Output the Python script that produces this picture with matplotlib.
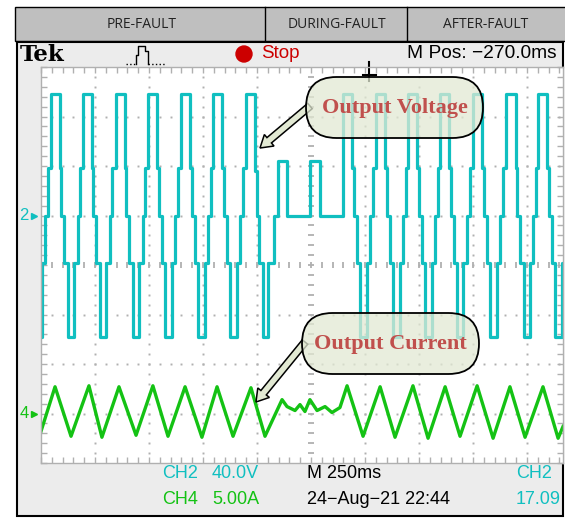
import matplotlib.pyplot as plt
import numpy as np
from matplotlib.patches import Rectangle, FancyBboxPatch, FancyArrow, Circle

# scope settings
ms_per_div = 250          # M 250ms
v_per_div = 40.0          # CH2 40.0V
a_per_div = 5.0           # CH4 5.00A
ch2_offset = 1.0          # ground marker, divisions above centre
ch4_offset = -3.0
trigger_ms = 1520         # M Pos -270 ms -> right of centre

# output voltage (CH2): one switching cycle starting at the positive plateau
cycle_levels = [98, 38, 0, -38, -98, -38, 0, 38]     # V
cycle_widths = [42, 7, 14, 16, 30, 16, 12, 14]        # ms
pre_cycle_starts = [-106, 45, 193, 346, 497, 648, 798]
fault_times = [949, 991, 999, 1007, 1028, 1051, 1079, 1097, 1139, 1245, 1292]
fault_levels = [98, 36, 0, -38, -98, -38, 0, 44, 0, 44, 0]
post_cycle_starts = [1398, 1551, 1699, 1847, 2000, 2155, 2301]

# output current (CH4): peaks / troughs in ms and A
current_t = [0, 65, 139, 222, 282, 361, 440, 518, 588, 667, 745, 815, 889, 972, 1037,
             1116, 1139, 1176, 1199, 1222, 1245, 1278, 1315, 1347, 1384,
             1417, 1491, 1570, 1639, 1722, 1792, 1871, 1940, 2019, 2093, 2171, 2241,
             2324, 2394, 2417]
current_a = [-1.8, 2.7, -2.3, 2.8, -2.4, 2.7, -2.2, 2.8, -2.3, 2.7, -2.4, 2.7, -2.3, 2.6, -2.3,
             1.4, 0.7, 0.3, 0.9, 0.2, 1.4, 0.3, 0.7, 0.1, 0.6,
             2.8, -2.3, 2.7, -2.4, 2.8, -2.5, 2.7, -2.3, 2.8, -2.5, 2.7, -2.4,
             2.7, -2.5, -1.3]

phases = ['PRE-FAULT', 'DURING-FAULT', 'AFTER-FAULT']

# build the stepped voltage trace
vt, vv = [], []
for starts in (pre_cycle_starts, None, post_cycle_starts):
    if starts is None:
        vt += fault_times
        vv += fault_levels
        continue
    for s in starts:
        t = s
        for lvl, w in zip(cycle_levels, cycle_widths):
            vt.append(t)
            vv.append(lvl)
            t += w
vt.append(t)
vv.append(vv[-1])

cyan = '#10bfc0'
green = '#14c214'
grid_c = '#b0b0b0'
W, H = 565, 518

fig = plt.figure(figsize=(W / 100, H / 100), dpi=100)
bg = fig.add_axes([0, 0, 1, 1])
bg.set_xlim(0, W)
bg.set_ylim(H, 0)
bg.axis('off')

# phase header
bg.add_patch(Rectangle((15, 7), 560, 34, fc='#bfbfbf', ec='black', lw=1))
for x in (265, 407):
    bg.plot([x, x], [7, 41], color='black', lw=1)
for x, s in zip((142, 337, 486), phases):
    bg.text(x, 24, s, ha='center', va='center', fontsize=10, family='Open Sans', color='#222222')

# scope frame
frame = Rectangle((17, 42), 546, 474, fc='#ececec', ec='black', lw=1.5)
bg.add_patch(frame)
bg.text(20, 55, 'Tek', ha='left', va='center', fontsize=16.5, family='DejaVu Serif',
        weight='bold', color='black')
bg.plot([126, 136], [64, 64], color='black', lw=1, ls=':')
bg.plot([136, 136, 138, 138, 145, 145, 148, 148], [64, 55, 55, 46, 46, 51, 51, 64], color='black', lw=1)
bg.plot([148, 165], [64, 64], color='black', lw=1, ls=':')
bg.add_patch(Circle((244, 54), 8, color='#cc0000'))
bg.text(261, 54, 'Stop', ha='left', va='center', fontsize=13.5, family='Liberation Sans', color='#cc0000')
bg.text(407, 54, 'M Pos: \u2212270.0ms', ha='left', va='center', fontsize=13.8,
        family='Liberation Sans', color='black')

info = [(162, 474, 'CH2', cyan), (212, 474, '40.0V', cyan), (307, 474, 'M 250ms', 'black'),
        (516, 474, 'CH2', cyan), (162, 500, 'CH4', green), (212, 500, '5.00A', green),
        (307, 500, '24\u2212Aug\u221221 22:44', 'black'), (516, 500, '17.09', cyan)]
for x, y, s, c in info:
    bg.text(x, y, s, ha='left', va='center', fontsize=13, family='Liberation Sans', color=c)

# graticule
gx0, gx1, gy0, gy1 = 41, 563, 67, 463
ax = fig.add_axes([gx0 / W, 1 - gy1 / H, (gx1 - gx0) / W, (gy1 - gy0) / H])
xmax = (gx1 - gx0) / 54 * ms_per_div
ax.set_xlim(0, xmax)
ax.set_ylim(-4, 4)
ax.set_facecolor('white')
for sp in ax.spines.values():
    sp.set_color(grid_c)
    sp.set_linewidth(1)
ax.set_xticks(np.arange(0, xmax, 50))
ax.set_yticks(np.arange(-4, 4.01, 0.2))
ax.tick_params(direction='in', length=4, width=1, color=grid_c, top=True, right=True,
               labelbottom=False, labelleft=False)

minor_x = np.arange(50, xmax, 50)
minor_y = np.arange(-3.8, 3.9, 0.2)
for k in range(1, 10):
    if k != 5:
        ax.plot([k * ms_per_div] * len(minor_y), minor_y, ls='none', marker='s', ms=1.4,
                color=grid_c, mew=0)
for j in (-3, -2, -1, 1, 2, 3):
    ax.plot(minor_x, [j] * len(minor_x), ls='none', marker='s', ms=1.4, color=grid_c, mew=0)
ax.plot([5 * ms_per_div] * len(minor_y), minor_y, ls='none', marker='_', ms=5, mew=1.3, color=grid_c)
ax.plot(minor_x, [0] * len(minor_x), ls='none', marker='|', ms=5, mew=1.3, color=grid_c)

ax.plot(vt, np.array(vv) / v_per_div + ch2_offset, drawstyle='steps-post', color=cyan, lw=2.3)
ax.plot(current_t, np.array(current_a) / a_per_div + ch4_offset, color=green, lw=2.4)

ytr = ax.get_yaxis_transform()
for off, lab, c in ((ch2_offset, '2', cyan), (ch4_offset, '4', green)):
    ax.text(-0.033, off, lab, transform=ytr, ha='center', va='center', fontsize=12,
            family='Liberation Sans', color=c, clip_on=False)
    ax.plot([-0.013], [off], transform=ytr, marker='>', ms=4.5, color=c, clip_on=False)

ax.plot([trigger_ms, trigger_ms], [4.1, 3.72], color='black', lw=1.5, clip_on=False)
ax.plot([trigger_ms - 30, trigger_ms + 30], [3.84, 3.84], color='black', lw=1.5, clip_on=False)

# callouts
ov = fig.add_axes([0, 0, 1, 1], zorder=5)
ov.set_xlim(0, W)
ov.set_ylim(H, 0)
ov.axis('off')
box_fc = (0.886, 0.914, 0.827, 0.75)


def callout(x0, y0, w, h, text, tail, tip):
    ov.add_patch(FancyArrow(tail[0], tail[1], tip[0] - tail[0], tip[1] - tail[1], width=7,
                            head_width=15, head_length=12, length_includes_head=True,
                            fc='#e2e9d3', ec='black', lw=1.1, zorder=1))
    ov.add_patch(FancyBboxPatch((x0, y0), w, h, boxstyle=f'round,pad=0,rounding_size={h / 2}',
                                fc=box_fc, ec='black', lw=1.3, zorder=2))
    ov.text(x0 + w / 2, y0 + h / 2 + 1, text, ha='center', va='center', fontsize=16,
            family='Liberation Serif', weight='bold', color='#c0504d', zorder=3)


callout(306, 77, 177, 61, 'Output Voltage', (310, 106), (260, 148))
callout(302, 313, 177, 61, 'Output Current', (305, 342), (256, 402))

fig.savefig('out.png', dpi=100)
